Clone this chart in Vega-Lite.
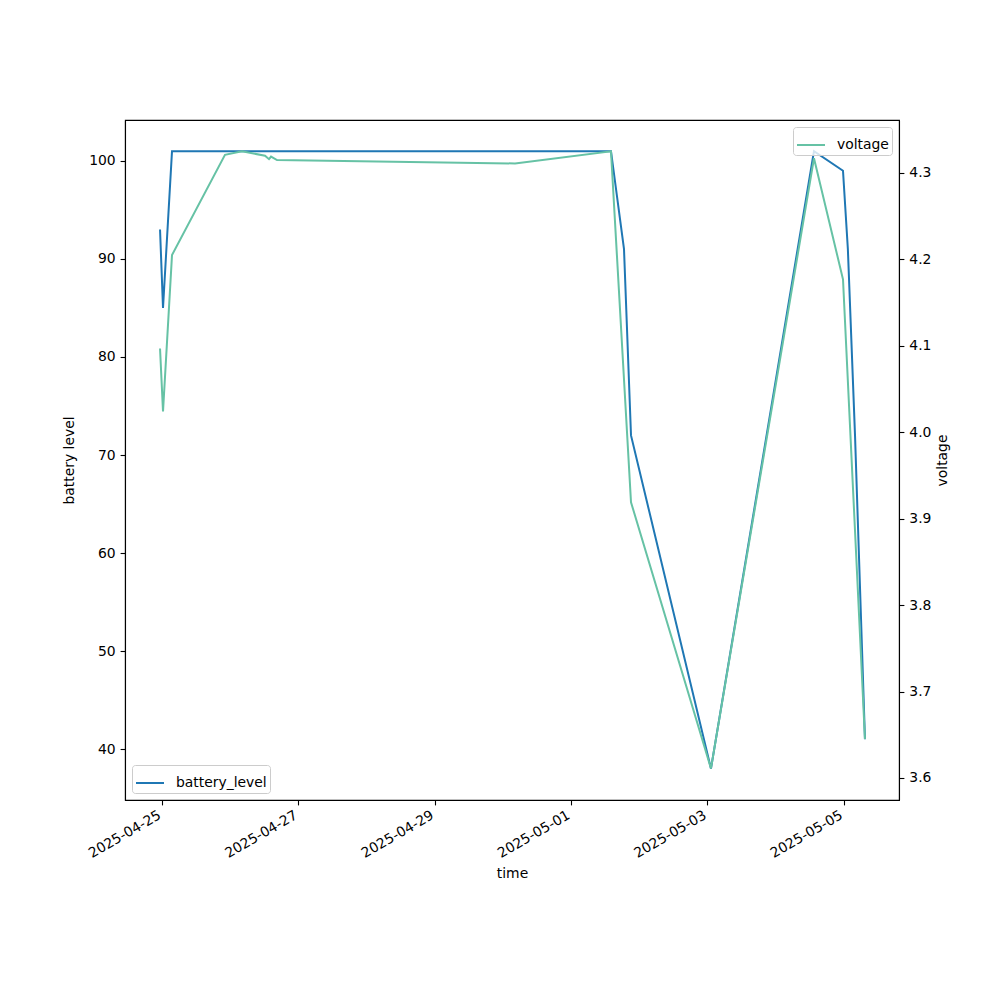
{
  "$schema": "https://vega.github.io/schema/vega-lite/v6.json",
  "autosize": "none",
  "width": 774,
  "height": 680,
  "padding": {"left": 125, "top": 120, "right": 101, "bottom": 200},
  "background": "white",
  "config": {
    "font": "DejaVu Sans",
    "view": {"stroke": "black", "strokeWidth": 1.1},
    "axis": {
      "grid": false,
      "domainColor": "black",
      "domainWidth": 1.1,
      "tickColor": "black",
      "tickWidth": 1.1,
      "tickSize": 4.9,
      "labelFont": "DejaVu Sans",
      "labelFontSize": 13.9,
      "labelColor": "black",
      "labelPadding": 4.9,
      "titleFont": "DejaVu Sans",
      "titleFontSize": 13.9,
      "titleFontWeight": "normal",
      "titleColor": "black"
    },
    "legend": {
      "labelFont": "DejaVu Sans",
      "labelFontSize": 13.9,
      "labelColor": "black",
      "strokeColor": "#cccccc",
      "fillColor": "rgba(255,255,255,0.8)",
      "cornerRadius": 3,
      "padding": 3,
      "offset": 7,
      "symbolType": "M-1,0H1",
      "symbolStrokeWidth": 2,
      "symbolSize": 784,
      "labelOffset": 11
    }
  },
  "data": {
    "values": [
      {"time": "2025-04-24T23:18:00", "battery_level": 93, "voltage": 4.097},
      {"time": "2025-04-25T00:21:00", "battery_level": 85, "voltage": 4.024},
      {"time": "2025-04-25T03:31:00", "battery_level": 101, "voltage": 4.205},
      {"time": "2025-04-25T22:10:00", "battery_level": 101, "voltage": 4.321},
      {"time": "2025-04-26T04:10:00", "battery_level": 101, "voltage": 4.325},
      {"time": "2025-04-26T12:16:00", "battery_level": 101, "voltage": 4.320},
      {"time": "2025-04-26T13:40:00", "battery_level": 101, "voltage": 4.316},
      {"time": "2025-04-26T14:23:00", "battery_level": 101, "voltage": 4.319},
      {"time": "2025-04-26T16:29:00", "battery_level": 101, "voltage": 4.315},
      {"time": "2025-04-30T04:17:00", "battery_level": 101, "voltage": 4.311},
      {"time": "2025-05-01T14:04:00", "battery_level": 101, "voltage": 4.325},
      {"time": "2025-05-01T18:39:00", "battery_level": 91, "voltage": null},
      {"time": "2025-05-01T21:07:00", "battery_level": 72, "voltage": 3.919},
      {"time": "2025-05-03T01:16:00", "battery_level": 38, "voltage": 3.611},
      {"time": "2025-05-04T13:32:00", "battery_level": 101, "voltage": 4.317},
      {"time": "2025-05-04T23:45:00", "battery_level": 99, "voltage": 4.177},
      {"time": "2025-05-05T01:28:00", "battery_level": 91, "voltage": null},
      {"time": "2025-05-05T03:59:00", "battery_level": 72, "voltage": null},
      {"time": "2025-05-05T07:29:00", "battery_level": 41, "voltage": 3.645}
    ]
  },
  "encoding": {
    "x": {
      "field": "time",
      "type": "temporal",
      "title": "time",
      "scale": {"domain": [{"year": 2025, "month": 4, "date": 24, "hours": 10, "minutes": 58}, {"year": 2025, "month": 5, "date": 5, "hours": 19, "minutes": 28}]},
      "axis": {
        "values": [
          {"year": 2025, "month": 4, "date": 25},
          {"year": 2025, "month": 4, "date": 27},
          {"year": 2025, "month": 4, "date": 29},
          {"year": 2025, "month": 5, "date": 1},
          {"year": 2025, "month": 5, "date": 3},
          {"year": 2025, "month": 5, "date": 5}
        ],
        "format": "%Y-%m-%d",
        "labelAngle": -30,
        "labelAlign": "right",
        "labelBaseline": "top",
        "labelPadding": 3,
        "labelOffset": -6,
        "titlePadding": 6
      }
    }
  },
  "layer": [
    {
      "mark": {"type": "line", "strokeWidth": 2},
      "encoding": {
        "y": {
          "field": "battery_level",
          "type": "quantitative",
          "title": "battery level",
          "scale": {"domain": [34.8, 104.18], "nice": false, "zero": false},
          "axis": {"values": [40, 50, 60, 70, 80, 90, 100], "orient": "left", "titlePadding": 12}
        },
        "color": {
          "datum": "battery_level",
          "type": "nominal",
          "scale": {"range": ["#1f77b4"]},
          "legend": {"title": null, "orient": "bottom-left"}
        }
      }
    },
    {
      "transform": [{"filter": "datum.voltage != null"}],
      "mark": {"type": "line", "strokeWidth": 2},
      "encoding": {
        "y": {
          "field": "voltage",
          "type": "quantitative",
          "title": "voltage",
          "scale": {"domain": [3.5745, 4.3613], "nice": false, "zero": false},
          "axis": {"values": [3.6, 3.7, 3.8, 3.9, 4.0, 4.1, 4.2, 4.3], "format": ".1f", "orient": "right", "titlePadding": 19, "titleAngle": 270}
        },
        "color": {
          "datum": "voltage",
          "type": "nominal",
          "scale": {"range": ["#66c2a5"]},
          "legend": {"title": null, "orient": "top-right"}
        }
      }
    }
  ],
  "resolve": {"scale": {"y": "independent", "color": "independent"}}
}
